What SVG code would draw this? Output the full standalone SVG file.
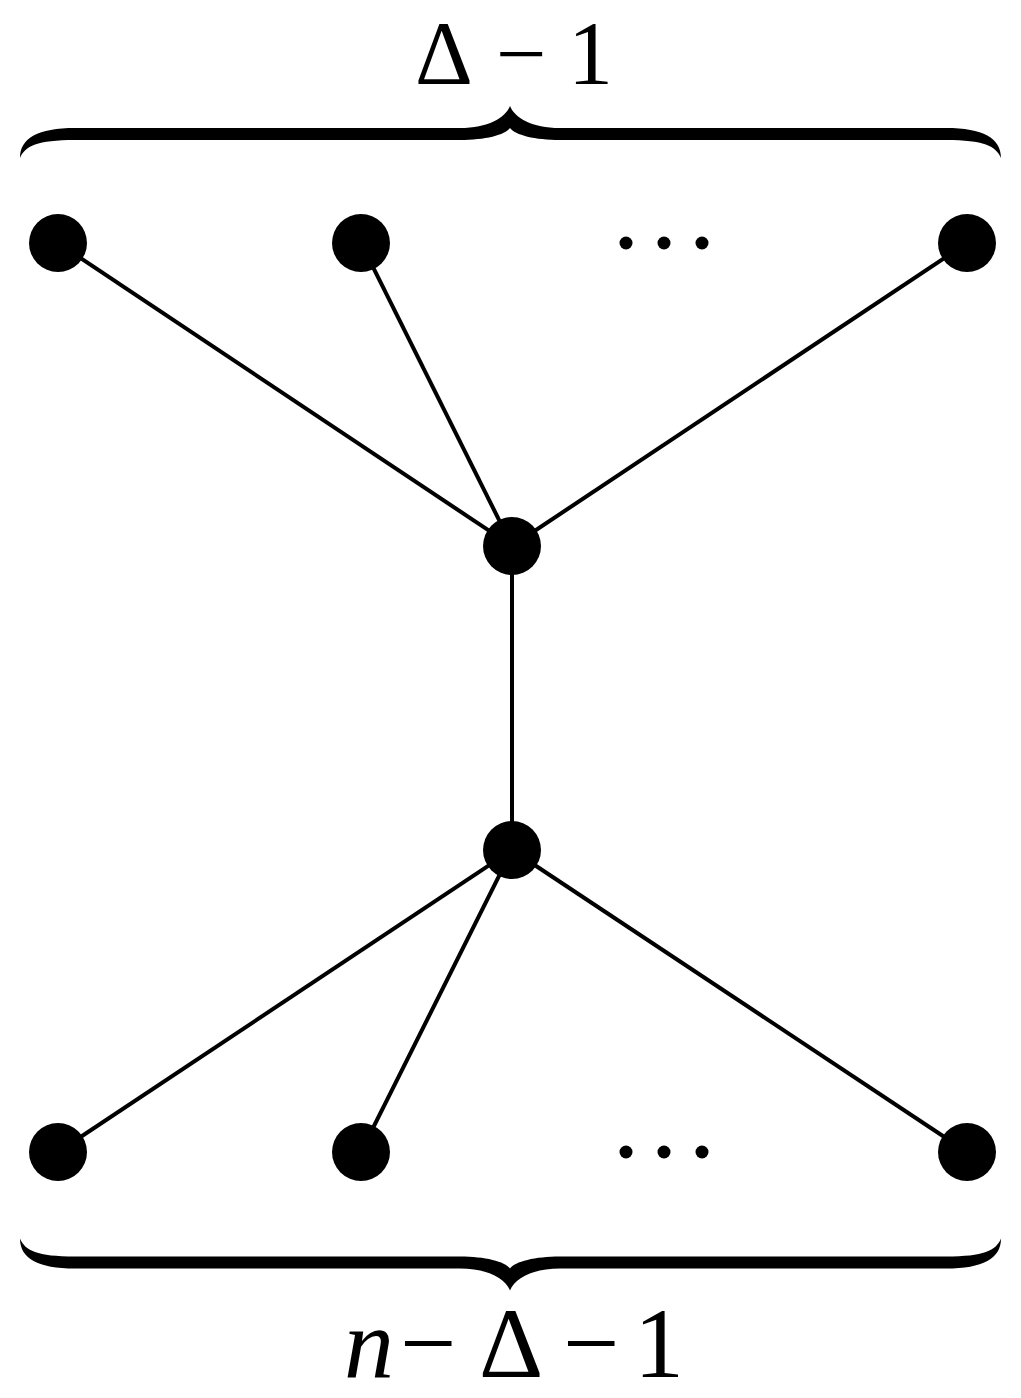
<svg xmlns="http://www.w3.org/2000/svg" width="1021" height="1398" viewBox="0 0 1021 1398">
<style>
.edge{stroke:#000;stroke-width:4;fill:none}
.node{fill:#000}
.dot{fill:#000}
.lbl{font-family:"Liberation Serif","DejaVu Serif",serif;font-size:100px;fill:#000}
.lbltop{font-size:90px}
</style>
<defs>
<path id="brace" d="M20,158 C20,138 38,128 75,128 L460,128 C488,128 505,118 510,106 C515,118 532,128 560,128 L946,128 C983,128 1001,138 1001,158 C996,146 984,140 946,140 L560,140 C535,140 515,135 510,128 C505,135 485,140 460,140 L75,140 C37,140 25,146 20,158 Z" fill="#000"/>
</defs>
<g id="connectors">
<line class="edge" x1="58" y1="243" x2="512" y2="546"/>
<line class="edge" x1="361" y1="243" x2="512" y2="546"/>
<line class="edge" x1="967" y1="243" x2="512" y2="546"/>
<line class="edge" x1="512" y1="546" x2="512" y2="850"/>
<line class="edge" x1="58" y1="1152" x2="512" y2="850"/>
<line class="edge" x1="361" y1="1152" x2="512" y2="850"/>
<line class="edge" x1="967" y1="1152" x2="512" y2="850"/>
</g>
<g id="n-top1"><circle class="node" cx="58" cy="243" r="29"/></g>
<g id="n-top2"><circle class="node" cx="361" cy="243" r="29"/></g>
<g id="n-top3"><circle class="node" cx="967" cy="243" r="29"/></g>
<g id="n-center1"><circle class="node" cx="512" cy="546" r="29"/></g>
<g id="n-center2"><circle class="node" cx="512" cy="850" r="29"/></g>
<g id="n-bot1"><circle class="node" cx="58" cy="1152" r="29"/></g>
<g id="n-bot2"><circle class="node" cx="361" cy="1152" r="29"/></g>
<g id="n-bot3"><circle class="node" cx="967" cy="1152" r="29"/></g>
<g id="dots-top">
<circle class="dot" cx="626" cy="243" r="6.5"/>
<circle class="dot" cx="664" cy="243" r="6.5"/>
<circle class="dot" cx="702" cy="243" r="6.5"/>
</g>
<g id="dots-bot">
<circle class="dot" cx="626" cy="1152" r="6.5"/>
<circle class="dot" cx="664" cy="1152" r="6.5"/>
<circle class="dot" cx="702" cy="1152" r="6.5"/>
</g>
<g id="brace-top"><use href="#brace"/></g>
<g id="brace-bottom"><use href="#brace" transform="translate(0,1396.5) scale(1,-1)"/></g>
<g id="label-top">
<text class="lbl lbltop" y="84"><tspan x="415">Δ</tspan><tspan x="496">−</tspan><tspan x="568">1</tspan></text>
</g>
<g id="label-bottom">
<text class="lbl" y="1377"><tspan x="344" font-style="italic">n</tspan><tspan x="400">−</tspan><tspan x="479">Δ</tspan><tspan x="563">−</tspan><tspan x="634">1</tspan></text>
</g>
</svg>
